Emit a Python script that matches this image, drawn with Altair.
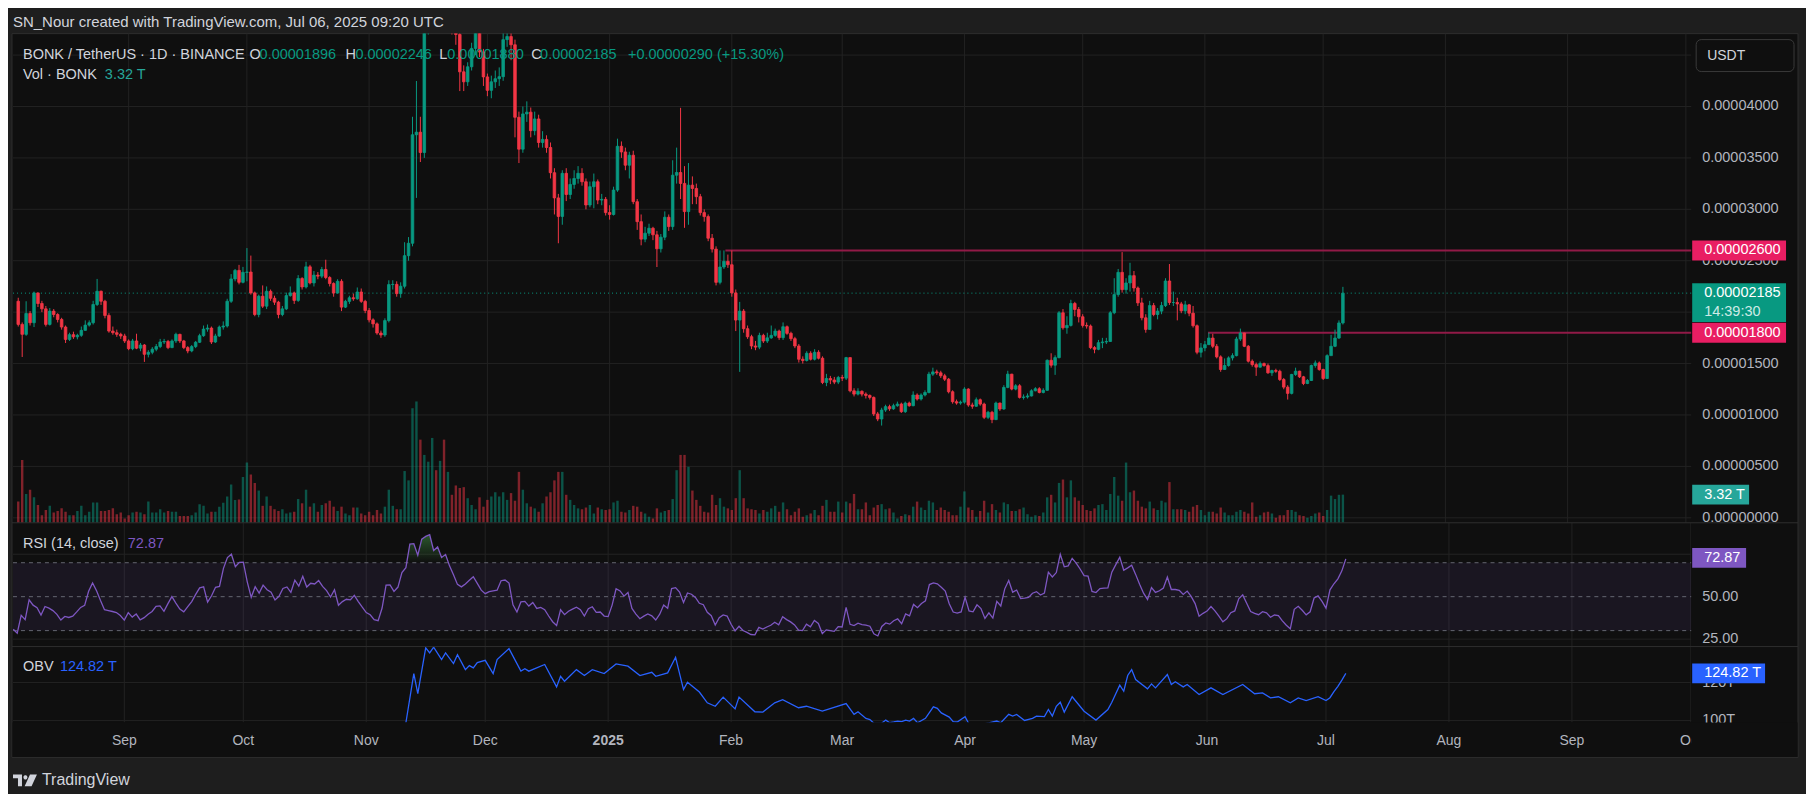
import altair as alt
import numpy as np
import pandas as pd

# ---------------- data (prices in 1e-8 USDT, volume in trillions) ----------------
FIRST_OPEN = 2106
# (close, high, low, volume) for each daily candle
AUG_2024 = [
    (1881,2140,1860,2.5),(1784,1900,1564,7.4),(1987,2106,1770,3.4),(1897,2010,1870,3.9),
    (2187,2200,1855,3.0),(2084,2190,2050,2.1),(2032,2110,2000,0.9),(1881,2060,1860,1.5),
    (2010,2040,1870,2.0),(1977,2030,1950,1.2),(1929,1990,1900,1.4),(1855,1945,1830,1.7),
    (1735,1870,1700,1.3),(1781,1800,1720,0.9),(1760,1810,1740,0.9),(1775,1790,1735,1.4),
    (1823,1860,1760,2.0),(1874,1920,1820,0.9),(1897,1920,1860,1.3),(2074,2110,1880,2.4),
    (2203,2323,2060,2.4),(2106,2210,2070,1.4),(1968,2120,1940,1.4),(1816,1990,1800,1.5),
    (1800,1860,1780,1.7),(1784,1830,1760,1.0),(1768,1800,1740,1.2),(1720,1790,1700,0.5)]
SEP_2024 = [
    (1645,1735,1630,0.9),(1720,1740,1630,1.2),(1650,1790,1640,1.3),(1680,1700,1620,1.2),
    (1590,1690,1516,1.0),(1610,1630,1560,2.5),(1640,1660,1590,1.2),(1665,1690,1620,1.2),
    (1710,1740,1650,1.6),(1715,1740,1690,1.2),(1655,1730,1640,1.4),(1720,1735,1650,1.3),
    (1784,1800,1700,1.3),(1720,1790,1700,0.8),(1655,1730,1640,0.8),(1623,1670,1600,0.8),
    (1665,1680,1610,0.9),(1707,1720,1650,1.2),(1771,1790,1700,2.2),(1835,1870,1760,2.0),
    (1845,1880,1810,1.1),(1710,1860,1690,1.3),(1768,1790,1700,1.3),(1855,1870,1760,1.9),
    (1865,1910,1830,2.35),(2106,2130,1850,3.1),(2323,2370,2090,4.5),(2406,2420,2300,2.7),
    (2290,2460,2270,2.75),(2387,2440,2280,5.4)]
OCT_2024 = [
    (2390,2623,2300,7.1),(2187,2550,2170,5.7),(1977,2200,1960,4.7),(2155,2170,1950,3.8),
    (2058,2260,2040,2.0),(2203,2250,2030,3.1),(2135,2220,2110,2.0),(2097,2160,2070,1.6),
    (1977,2110,1940,1.4),(2032,2060,1960,1.6),(2161,2190,2020,1.1),(2187,2250,2150,1.2),
    (2114,2200,2080,1.3),(2327,2360,2100,2.8),(2245,2340,2220,2.3),(2441,2490,2230,3.9),
    (2284,2460,2270,1.9),(2360,2400,2250,2.3),(2350,2390,2320,1.3),(2415,2440,2330,2.1),
    (2337,2510,2320,2.3),(2278,2350,2250,2.6),(2186,2290,2150,1.9),(2300,2320,2180,1.4),
    (2049,2320,2010,1.9),(2105,2120,2040,1.1),(2140,2160,2080,0.9),(2130,2180,2110,1.8),
    (2196,2240,2120,1.8),(2105,2230,2090,1.1),(2016,2120,1990,0.9)]
NOV_2024 = [
    (1925,2040,1900,1.3),(1886,1940,1850,0.9),(1797,1900,1780,1.5),(1778,1820,1750,1.1),
    (1918,1940,1760,1.9),(2268,2310,1900,3.9),(2270,2310,2220,2.0),(2180,2300,2150,1.6),
    (2252,2290,2140,1.6),(2549,2680,2230,6.1),(2670,2730,2500,5.0),(3725,3900,2640,13.5),
    (3750,4248,3111,14.3),(3552,3900,3460,9.8),(4850,5000,3500,8.0),(5200,5450,4700,7.2),
    (5450,5700,5000,10.0),(5050,5600,4850,6.2),(5400,5600,4900,7.3),(5100,5900,4800,9.8),
    (5350,5500,4900,6.0),(5000,5400,4700,3.3),(4700,5100,4600,4.4),(4337,4850,4150,4.1),
    (4240,4400,4150,4.2),(4386,4430,4200,2.9),(4565,4620,4350,2.1),(4750,4900,4500,1.6),
    (4530,4800,4480,3.0),(4288,4560,4200,1.9)]
DEC_2024 = [
    (4157,4320,4100,2.7),(4240,4300,4080,3.1),(4270,4350,4180,3.6),(4290,4380,4200,3.1),
    (4650,4720,4250,3.6),(4680,4800,4580,2.7),(4600,4780,4450,3.5),(3895,4650,3700,2.6),
    (3585,3950,3450,6.0),(3928,4000,3550,3.9),(3945,4050,3850,2.3),(3765,3990,3700,1.9),
    (3879,3950,3720,1.7),(3650,3920,3600,1.3),(3680,3760,3600,2.3),(3601,3720,3550,3.1),
    (3356,3650,3300,3.6),(3111,3400,2950,5.0),(2931,3150,2670,6.0),(3350,3380,2850,6.0),
    (3144,3400,3080,3.3),(3242,3300,3100,2.7),(3300,3380,3200,2.1),(3350,3420,3250,1.7),
    (3268,3400,3230,1.6),(3042,3300,3000,1.8),(3220,3270,3020,2.1),(3268,3348,3010,1.1),
    (3090,3290,3050,1.8),(3097,3150,3040,1.6),(2968,3120,2940,1.5)]
JAN_2025 = [
    (2950,3040,2900,1.6),(3187,3220,2940,2.4),(3613,3687,3170,2.6),(3558,3660,3500,1.3),
    (3429,3600,3380,1.2),(3526,3560,3300,1.5),(3074,3570,3050,2.0),(2880,3100,2800,1.9),
    (2710,2950,2650,1.3),(2768,2830,2680,1.1),(2816,2860,2740,0.7),(2752,2830,2700,0.5),
    (2616,2790,2439,1.7),(2729,2760,2580,1.2),(2923,2980,2700,1.4),(2832,2950,2790,1.5),
    (3332,3477,2800,2.8),(3358,3600,3250,6.2),(3252,3987,3100,8.0),(2978,3420,2820,8.0),
    (3235,3450,2850,6.6),(3203,3320,3050,3.8),(3123,3250,3050,2.7),(2968,3150,2940,2.0),
    (2929,3000,2880,1.3),(2719,2950,2690,1.2),(2613,2760,2580,3.3),(2290,2640,2260,2.1),
    (2439,2600,2270,2.9),(2494,2600,2420,1.9),(2461,2560,2430,1.7)]
FEB_2025 = [
    (2187,2600,2150,1.5),(1923,2220,1816,2.9),(2010,2100,1419,6.2),(1839,2030,1800,2.9),
    (1761,1870,1740,1.7),(1671,1780,1640,1.6),(1660,1720,1630,1.5),(1774,1800,1640,1.1),
    (1719,1790,1700,1.5),(1750,1800,1700,1.3),(1774,1870,1740,1.7),(1816,1840,1760,2.0),
    (1752,1830,1730,1.3),(1858,1900,1730,2.4),(1794,1870,1780,1.6),(1742,1810,1720,0.9),
    (1671,1760,1650,1.3),(1542,1690,1510,1.7),(1530,1570,1500,0.7),(1600,1620,1520,0.9),
    (1542,1620,1530,1.1),(1610,1640,1530,1.5),(1552,1630,1540,0.9),(1316,1570,1300,2.0),
    (1355,1400,1280,2.7),(1340,1380,1300,1.3),(1320,1370,1300,1.3),(1365,1380,1300,2.5)]
MAR_2025 = [
    (1358,1390,1330,1.2),(1558,1565,1340,2.5),(1235,1560,1220,2.3),(1203,1260,1180,3.4),
    (1230,1260,1190,1.6),(1203,1240,1180,1.6),(1190,1220,1160,2.4),(1171,1200,1150,0.9),
    (1010,1180,990,1.8),(961,1030,940,2.1),(1048,1070,897,2.2),(1081,1100,1030,1.6),
    (1060,1100,1040,1.7),(1090,1110,1050,1.2),(1106,1130,1080,0.5),(1032,1120,1020,0.8),
    (1116,1130,1020,1.0),(1090,1130,1080,0.9),(1194,1230,1085,1.9),(1155,1210,1140,2.5),
    (1194,1210,1140,1.8),(1219,1240,1180,1.5),(1397,1420,1210,2.6),(1419,1460,1380,2.4),
    (1410,1440,1390,1.5),(1381,1430,1360,1.8),(1348,1400,1330,1.5),(1226,1360,1210,1.3),
    (1129,1240,1110,0.9),(1116,1150,1100,0.9),(1125,1140,1100,1.9)]
APR_2025 = [
    (1252,1270,1110,3.7),(1097,1260,1080,1.8),(1085,1120,1060,1.5),(1148,1170,1080,0.7),
    (1106,1160,1090,1.4),(977,1120,960,2.6),(1026,1040,960,1.2),(955,1040,920,2.2),
    (1116,1130,950,1.5),(1058,1120,1040,1.2),(1268,1290,1050,2.4),(1397,1430,1260,2.2),
    (1252,1400,1240,1.4),(1284,1300,1240,1.4),(1171,1300,1160,1.6),(1175,1200,1150,1.8),
    (1185,1210,1160,1.0),(1235,1250,1180,0.7),(1255,1270,1230,0.9),(1219,1270,1210,0.8),
    (1240,1260,1210,1.2),(1532,1540,1235,3.0),(1484,1600,1460,3.3),(1558,1580,1390,2.4),
    (1994,2010,1550,4.7),(1848,2030,1830,5.1),(1871,1960,1790,3.0),(2084,2120,1860,5.0),
    (2026,2100,1960,3.0),(1955,2050,1900,2.6)]
MAY_2025 = [
    (1871,1980,1850,2.1),(1865,1900,1840,1.5),(1655,1880,1640,1.4),(1639,1670,1600,1.7),
    (1703,1730,1630,2.1),(1710,1750,1650,2.2),(1715,1750,1690,1.5),(1994,2010,1710,3.4),
    (2171,2330,1980,5.4),(2387,2420,2150,3.2),(2219,2584,2190,2.6),(2284,2330,2180,7.1),
    (2355,2480,2200,3.6),(2235,2400,2200,3.8),(2090,2250,2060,2.6),(1945,2140,1920,1.9),
    (1832,1980,1800,1.7),(2064,2110,1830,2.5),(1977,2090,1960,1.7),(2010,2040,1930,1.5),
    (2064,2100,1980,2.6),(2303,2330,2050,2.4),(2094,2468,2070,4.8),(2094,2200,2060,1.6),
    (2080,2140,1920,1.6),(2013,2100,1990,1.6),(2071,2110,1980,1.5),(1990,2080,1960,1.3),
    (1868,2060,1850,1.9),(1610,1880,1590,2.1),(1652,1700,1560,1.5)]
JUN_2025 = [
    (1684,1720,1620,0.9),(1748,1800,1680,1.3),(1668,1790,1650,1.3),(1565,1690,1550,1.1),
    (1442,1580,1420,1.8),(1481,1550,1440,1.2),(1555,1570,1470,0.9),(1577,1600,1530,0.9),
    (1739,1760,1570,1.3),(1797,1840,1720,1.5),(1668,1800,1660,1.3),(1523,1680,1510,1.1),
    (1490,1540,1470,2.4),(1465,1510,1380,0.7),(1500,1520,1460,0.9),(1480,1510,1470,1.2),
    (1410,1500,1400,1.3),(1432,1440,1380,1.1),(1425,1450,1410,0.6),(1345,1440,1330,0.9),
    (1271,1360,1250,0.9),(1210,1290,1150,1.5),(1394,1400,1200,1.5),(1426,1460,1380,1.3),
    (1371,1430,1360,0.9),(1306,1380,1290,0.8),(1335,1350,1300,0.6),(1481,1490,1330,0.8),
    (1506,1530,1460,1.1),(1442,1520,1430,1.2)]
JUL_2025 = [
    (1355,1450,1340,0.8),(1577,1590,1350,1.5),(1668,1780,1620,3.2),(1748,1830,1660,2.8),
    (1895,1920,1740,3.3),(2185,2246,1880,3.32)]

# OBV line: (candle number counted from 2024-08-04, value in T)
OBV_POINTS = [
    (99, 98.8), (101, 124.7), (102, 114.2), (104, 138.3), (105, 135.6), (106, 138.6),
    (108, 132.1), (109, 135.6), (111, 130.0), (112, 134.7), (114, 126.8), (115, 128.9),
    (116, 127.7), (117, 130.5), (119, 131.7), (121, 124.7), (122, 132.1), (125, 137.9),
    (128, 126.0), (129, 127.3), (130, 126.0), (134, 129.5), (137, 117.7), (138, 123.3),
    (139, 120.7), (142, 126.8), (144, 123.7), (146, 126.8), (149, 124.7), (152, 129.8),
    (155, 128.6), (158, 123.7), (161, 125.4), (162, 123.3), (165, 125.1), (167, 133.3),
    (169, 116.3), (170, 120.2), (173, 115.0), (175, 109.3), (177, 107.5), (179, 112.3),
    (182, 106.1), (183, 112.3), (187, 104.6), (189, 104.4), (192, 109.3), (194, 111.0),
    (198, 106.7), (200, 107.5), (204, 104.9), (210, 108.9), (212, 103.2), (213, 104.6),
    (215, 101.1), (216, 100.5), (217, 98.5), (219, 98.6), (220, 100.2), (221, 98.8),
    (222, 99.2), (223, 99.7), (224, 99.4), (225, 100.2), (226, 99.7), (227, 101.1),
    (228, 98.8), (230, 101.1), (232, 107.2), (233, 106.4), (234, 104.0), (236, 101.8),
    (237, 99.4), (238, 99.2), (240, 102.0), (241, 98.0), (243, 97.5), (246, 98.7),
    (248, 99.7), (249, 98.8), (251, 103.2), (252, 102.3), (253, 103.2), (255, 100.0),
    (257, 101.1), (258, 102.3), (260, 102.0), (261, 105.8), (262, 102.3), (263, 107.5),
    (264, 109.6), (265, 104.4), (267, 112.5), (270, 104.9), (273, 100.2), (276, 105.8),
    (277, 109.6), (279, 118.6), (280, 115.4), (281, 123.7), (282, 126.8), (283, 121.6),
    (286, 116.7), (287, 119.3), (288, 117.2), (291, 124.2), (292, 119.0), (293, 120.4),
    (295, 117.7), (296, 119.0), (299, 113.7), (302, 117.2), (305, 113.7), (310, 119.0),
    (313, 114.1), (315, 114.5), (317, 111.9), (319, 112.5), (322, 109.3), (324, 111.9),
    (326, 110.5), (329, 112.5), (331, 110.5), (332, 112.0), (333, 115.2), (334, 118.0),
    (335, 121.3), (336, 124.82)]

MONTH_DATES = ["2024-09-01", "2024-10-01", "2024-11-01", "2024-12-01", "2025-01-01",
               "2025-02-01", "2025-03-01", "2025-04-01", "2025-05-01", "2025-06-01",
               "2025-07-01", "2025-08-01", "2025-09-01", "2025-10-01"]
MONTH_LABELS = ["Sep", "Oct", "Nov", "Dec", "2025", "Feb", "Mar", "Apr", "May", "Jun",
                "Jul", "Aug", "Sep", "Oct"]
PRICE_GRID = [0, 500, 1000, 1500, 2000, 2500, 3000, 3500, 4000, 4500]
PRICE_LABELS = [0, 500, 1000, 1500, 2500, 3000, 3500, 4000]
LEVELS = [2600, 1800]
LEVEL_START = ["2025-01-30T09:00:00Z", "2025-06-01T19:00:00Z"]
LAST_CLOSE = 2185
LAST_VOL = 3.32
RSI_LAST = 72.87
OBV_LAST = 124.82
RSI_SEED_GAIN, RSI_SEED_LOSS = 30.0, 50.0
RSI_GRID = [25, 75]
RSI_LABELS = [50, 25]
RSI_DASH = [70, 50, 30]
OBV_GRID = [100, 120]
OBV_LABELS = [120, 100]

HEADER = "SN_Nour created with TradingView.com, Jul 06, 2025 09:20 UTC"
LEGEND_1 = [("BONK / TetherUS · 1D · BINANCE", "t"), ("O", "t"), ("0.00001896", "v"),
            ("H", "t"), ("0.00002246", "v"), ("L", "t"), ("0.00001880", "v"),
            ("C", "t"), ("0.00002185", "v"), ("+0.00000290 (+15.30%)", "v")]
LEGEND_1_X = [23, 250, 260, 346, 356, 440, 448, 532, 541, 629]

# ---------------- derived table ----------------
rows = (AUG_2024 + SEP_2024 + OCT_2024 + NOV_2024 + DEC_2024 + JAN_2025 + FEB_2025 +
        MAR_2025 + APR_2025 + MAY_2025 + JUN_2025 + JUL_2025)
n = len(rows)
c = np.array([r[0] for r in rows], float)
h = np.array([r[1] for r in rows], float)
l = np.array([r[2] for r in rows], float)
v = np.array([r[3] for r in rows], float)
o = np.r_[FIRST_OPEN, c[:-1]]
START = pd.Timestamp("2024-08-04")
dates = pd.date_range(START, periods=n, freq="D")

# RSI(14) with Wilder smoothing
ag, al = RSI_SEED_GAIN, RSI_SEED_LOSS
rsi = []
for ch in c - o:
    ag = (ag * 13 + max(ch, 0)) / 14
    al = (al * 13 + max(-ch, 0)) / 14
    rsi.append(100 - 100 / (1 + ag / al))
rsi = np.array(rsi)

df = pd.DataFrame({"t": dates.strftime("%Y-%m-%dT00:00:00Z"), "o": o, "h": h, "l": l,
                   "c": c, "v": v, "rsi": rsi, "rsi_hi": np.maximum(rsi, 70), "b70": 70.0})
obv_df = pd.DataFrame({
    "t": [(START + pd.Timedelta(days=i)).strftime("%Y-%m-%dT00:00:00Z") for i, _ in OBV_POINTS],
    "obv": [val for _, val in OBV_POINTS]})

# ---------------- style / geometry ----------------
UP, DN = "#089981", "#f23645"
BG_OUT, BG = "#1e1e1e", "#0f0f0f"
GRID, SEP = "#222222", "#2e2e2e"
TXT, AXT = "#d1d4dc", "#b2b5be"
LEVEL_LINE, LEVEL_TAG = "#911a47", "#e91e63"
RSI_C, OBV_C = "#7e57c2", "#2962ff"
FONT = "Liberation Sans, Arial, Helvetica, sans-serif"
FS = 14.5

X0, X1 = 13, 1694
W = X1 - X0
P_TOP, P_BOT, R_BOT, O_BOT, T_BOT = 33, 523, 647, 723, 758
H1, H2, H3, H4 = P_BOT - P_TOP, R_BOT - P_BOT, O_BOT - R_BOT, T_BOT - O_BOT
AX_X = 1705 - X0
TAG_X = 1695 - X0
TAG_TX = 1707 - X0

X_SEP24, PX_DAY = 124.5, (1574.5 - 124.5) / 365
sep1_ms = pd.Timestamp("2024-09-01", tz="UTC").value // 10**6
def x_to_ms(xp):
    return sep1_ms + (xp - X_SEP24) / PX_DAY * 86400000
XDOM = [x_to_ms(X0), x_to_ms(X1)]
xs = alt.Scale(type="utc", domain=XDOM)
X = alt.X("t:T", scale=xs, axis=None)

PX_UNIT = (518 - 106) / 4000.0
ps = alt.Scale(domain=[-(P_BOT - 518) / PX_UNIT, (518 - P_TOP) / PX_UNIT], nice=False, zero=False)
vs = alt.Scale(domain=[0, H1 / 8.5], nice=False, zero=False)
rs = alt.Scale(domain=[50 - (R_BOT - 597) / 1.7, 50 + (597 - P_BOT) / 1.7], nice=False, zero=False)
os_ = alt.Scale(domain=[120 - (O_BOT - 683) / 1.9, 120 + (683 - R_BOT) / 1.9], nice=False, zero=False)


def Y(field, scale):
    return alt.Y(field, scale=scale, axis=None)


def one(d=None):
    return alt.Data(values=[d or {"k": 0}])


def text_px(x, y, s, color=TXT, size=FS, weight="normal", align="left"):
    return alt.Chart(one({"s": s})).mark_text(
        align=align, baseline="middle", font=FONT, fontSize=size, fontWeight=weight,
        color=color).encode(x=alt.value(x), y=alt.value(y), text="s:N")


def rect_px(x, x2, y, y2, fill, stroke=None, sw=0, radius=0):
    kw = dict(fill=fill, cornerRadius=radius)
    if stroke:
        kw.update(stroke=stroke, strokeWidth=sw)
    else:
        kw.update(strokeWidth=0)
    return alt.Chart(one()).mark_rect(**kw).encode(
        x=alt.value(x), x2=alt.value(x2), y=alt.value(y), y2=alt.value(y2))


def hrule_px(y, x, x2, color, sw=1):
    return alt.Chart(one()).mark_rule(color=color, strokeWidth=sw).encode(
        x=alt.value(x), x2=alt.value(x2), y=alt.value(y))


def hgrid(values, scale, color=GRID, dash=None, opacity=1):
    kw = dict(color=color, strokeWidth=1, opacity=opacity)
    if dash:
        kw["strokeDash"] = dash
    return alt.Chart(pd.DataFrame({"p": values})).mark_rule(**kw).encode(
        x=alt.value(0), x2=alt.value(W), y=Y("p:Q", scale))


def vgrid(height):
    return alt.Chart(pd.DataFrame({"t": MONTH_DATES})).mark_rule(color=GRID, clip=True).encode(
        x=alt.X("t:T", scale=xs, axis=None), y=alt.value(0), y2=alt.value(height))


def axis_labels(values, scale, fmt):
    return alt.Chart(pd.DataFrame({"p": values})).transform_calculate(
        s=fmt).mark_text(align="left", baseline="middle", font=FONT, fontSize=FS,
                         color=AXT).encode(x=alt.value(AX_X), y=Y("p:Q", scale), text="s:N")


def tag(value, scale, label, fill, x2, height=20, yoff=0, txt="#ffffff"):
    d = one({"p": value, "s": label})
    r = alt.Chart(d).mark_rule(color=fill, strokeWidth=height, yOffset=yoff).encode(
        x=alt.value(TAG_X), x2=alt.value(x2 - X0), y=Y("p:Q", scale))
    t = alt.Chart(d).mark_text(align="left", baseline="middle", font=FONT, fontSize=FS,
                               color=txt).encode(x=alt.value(TAG_TX), y=Y("p:Q", scale), text="s:N")
    return [r, t]


col = alt.condition("datum.c >= datum.o", alt.value(UP), alt.value(DN))
base = alt.Chart(df)

# ---------------- price pane ----------------
p1_layers = [
    rect_px(8 - X0, 1806 - X0, 8 - P_TOP, 794 - P_TOP, BG_OUT),
    rect_px(12 - X0, 1801 - X0, 0, T_BOT - P_TOP, BG, stroke=SEP, sw=1),
    hgrid(PRICE_GRID, ps),
    vgrid(H1),
    base.mark_bar(size=2.4, opacity=0.5, clip=True).encode(x=X, y=Y("v:Q", vs), color=col),
    alt.Chart(pd.DataFrame({"t0": LEVEL_START, "p": LEVELS})).mark_rule(
        color=LEVEL_LINE, strokeWidth=2).encode(
        x=alt.X("t0:T", scale=xs, axis=None), x2=alt.value(W), y=Y("p:Q", ps)),
    alt.Chart(one({"p": LAST_CLOSE})).mark_rule(color=UP, strokeWidth=1, strokeDash=[1, 3]).encode(
        x=alt.value(0), x2=alt.value(W), y=Y("p:Q", ps)),
    base.mark_rule(strokeWidth=1, clip=True).encode(x=X, y=Y("l:Q", ps), y2="h:Q", color=col),
    base.mark_bar(size=2.6, strokeWidth=0.8, clip=True).encode(
        x=X, y=Y("o:Q", ps), y2="c:Q", color=col, stroke=col),
    axis_labels(PRICE_LABELS, ps, "format(datum.p * 1e-8, '.8f')"),
]
p1_layers += tag(LEVELS[0], ps, "%.8f" % (LEVELS[0] * 1e-8), LEVEL_TAG, 1789)
p1_layers += tag(LAST_CLOSE, ps, "%.8f" % (LAST_CLOSE * 1e-8), UP, 1789, height=39, yoff=9.5)
p1_layers.append(alt.Chart(one({"p": LAST_CLOSE, "s": "14:39:30"})).mark_text(
    align="left", baseline="middle", font=FONT, fontSize=FS, color="#cdebe6", dy=18.5).encode(
    x=alt.value(TAG_TX), y=Y("p:Q", ps), text="s:N"))
p1_layers += tag(LEVELS[1], ps, "%.8f" % (LEVELS[1] * 1e-8), LEVEL_TAG, 1789)
p1_layers += tag(LAST_VOL, vs, "%.2f T" % LAST_VOL, "#26a69a", 1752)
p1_layers += [
    rect_px(1699 - X0, 1797 - X0, 39 - P_TOP, 71 - P_TOP, BG, stroke="#3a3a3a", sw=1, radius=5),
    text_px(1710 - X0, 55 - P_TOP, "USDT", TXT, 14),
    text_px(13 - X0, 21 - P_TOP, HEADER, TXT, 15),
]
for (s, kind), xp in zip(LEGEND_1, LEGEND_1_X):
    p1_layers.append(text_px(xp - X0, 54 - P_TOP, s, UP if kind == "v" else TXT))
p1_layers += [text_px(23 - X0, 74 - P_TOP, "Vol · BONK"),
              text_px(105 - X0, 74 - P_TOP, "%.2f T" % LAST_VOL, "#26a69a")]
pane1 = alt.layer(*p1_layers).resolve_scale(y="independent").properties(width=W, height=H1)

# ---------------- RSI pane ----------------
grad = alt.LinearGradient(gradient="linear", x1=1, x2=1, y1=0, y2=1,
                          stops=[alt.GradientStop(color="rgba(76,175,80,0.45)", offset=0),
                                 alt.GradientStop(color="rgba(76,175,80,0)", offset=1)])
p2_layers = [
    hgrid(RSI_GRID, rs),
    vgrid(H2),
    alt.Chart(one({"a": RSI_DASH[0], "b": RSI_DASH[2]})).mark_rect(color=RSI_C, opacity=0.1).encode(
        x=alt.value(0), x2=alt.value(W), y=Y("a:Q", rs), y2="b:Q"),
    base.mark_area(color=grad, clip=True).encode(x=X, y=Y("rsi_hi:Q", rs), y2="b70:Q"),
    hgrid(RSI_DASH, rs, color="#787b86", dash=[4, 4], opacity=0.8),
    base.mark_line(color=RSI_C, strokeWidth=1.3, clip=True).encode(x=X, y=Y("rsi:Q", rs)),
    axis_labels(RSI_LABELS, rs, "format(datum.p, '.2f')"),
    hrule_px(0, 12 - X0, 1801 - X0, SEP),
    text_px(23 - X0, 544 - P_BOT, "RSI (14, close)"),
    text_px(128 - X0, 544 - P_BOT, "%.2f" % RSI_LAST, RSI_C),
]
p2_layers += tag(RSI_LAST, rs, "%.2f" % RSI_LAST, RSI_C, 1749)
pane2 = alt.layer(*p2_layers).resolve_scale(y="independent").properties(width=W, height=H2)

# ---------------- OBV pane ----------------
p3_layers = [
    hgrid(OBV_GRID, os_),
    vgrid(H3),
    alt.Chart(obv_df).mark_line(color=OBV_C, strokeWidth=1.3, clip=True).encode(
        x=X, y=Y("obv:Q", os_)),
    axis_labels(OBV_LABELS, os_, "datum.p + 'T'"),
    hrule_px(0, 12 - X0, 1801 - X0, SEP),
    text_px(23 - X0, 667 - R_BOT, "OBV"),
    text_px(60 - X0, 667 - R_BOT, "%.2f T" % OBV_LAST, OBV_C),
]
p3_layers += tag(OBV_LAST, os_, "%.2f T" % OBV_LAST, OBV_C, 1768)
pane3 = alt.layer(*p3_layers).resolve_scale(y="independent").properties(width=W, height=H3)

# ---------------- time axis + footer ----------------
months = alt.Chart(pd.DataFrame({"t": MONTH_DATES, "lab": MONTH_LABELS}))
LOGO = ("M-1,-0.5H-0.25V0.5H-0.583V-0.167H-1Z "
        "M-0.13,-0.25a0.167,0.167 0 1 0 0.333,0a0.167,0.167 0 1 0 -0.333,0Z "
        "M0.42,-0.5H1L0.55,0.5H-0.03Z")
p4_layers = [
    rect_px(12.5 - X0, 1800.5 - X0, 0, H4 - 0.5, BG),
    months.transform_filter("datum.lab != '2025'").mark_text(
        clip=True, font=FONT, fontSize=14, color=AXT, baseline="middle").encode(
        x=alt.X("t:T", scale=xs, axis=None), y=alt.value(742 - O_BOT), text="lab:N"),
    months.transform_filter("datum.lab == '2025'").mark_text(
        clip=True, font=FONT, fontSize=14, fontWeight="bold", color=AXT, baseline="middle").encode(
        x=alt.X("t:T", scale=xs, axis=None), y=alt.value(742 - O_BOT), text="lab:N"),
    alt.Chart(one()).mark_point(shape=LOGO, size=576, filled=True, color=TXT, opacity=1,
                                strokeWidth=0).encode(x=alt.value(25 - X0), y=alt.value(781 - O_BOT)),
    text_px(42 - X0, 781 - O_BOT, "TradingView", TXT, 16),
]
pane4 = alt.layer(*p4_layers).properties(width=W, height=H4)

chart = alt.vconcat(pane1, pane2, pane3, pane4, spacing=0, bounds="flush").properties(
    padding=0, background=BG_OUT).configure_view(strokeWidth=0)

chart.save("out.html", embed_options={"renderer": "svg", "actions": False})
